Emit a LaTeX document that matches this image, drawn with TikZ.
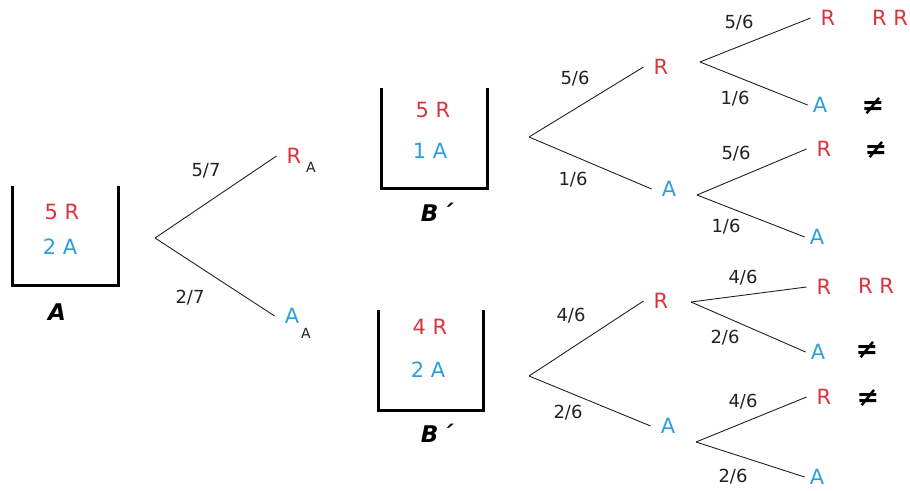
\documentclass[tikz,border=0pt]{standalone}
\usepackage{fontspec}
\setmainfont{DejaVu Sans}
\definecolor{rojo}{HTML}{D9343B}
\definecolor{azul}{HTML}{2B9FD9}
\definecolor{tinta}{HTML}{222222}
\begin{document}
\begin{tikzpicture}[x=1pt,y=-1pt]
  \useasboundingbox (0,0) rectangle (910,490);

  % urnas
  \begin{scope}[line width=3pt]
    \draw (12,186) -- (12,285) -- (118,285) -- (118,186);
    \draw (381,88) -- (381,188) -- (487,188) -- (487,88);
    \draw (378,310) -- (378,410) -- (483,410) -- (483,310);
  \end{scope}

  \begin{scope}[every node/.style={font=\fontsize{21}{22}\selectfont}]
    \node[rojo] (uA1) at (62,212) {5 R};
    \node[azul] (uA2) at (60,247) {2 A};
    \node[rojo] (uB1) at (433,110) {5 R};
    \node[azul] (uB2) at (430,151) {1 A};
    \node[rojo] (uC1) at (430,327) {4 R};
    \node[azul] (uC2) at (428,370) {2 A};
  \end{scope}

  \begin{scope}[every node/.style={font=\fontsize{23}{24}\selectfont\bfseries\itshape}]
    \node (nA) at (57,312) {A};
    \node (nB1) at (437,212) {B\kern3pt´};
    \node (nB2) at (437,433) {B\kern3pt´};
  \end{scope}

  % raices
  \coordinate (0) at (155,238);
  \coordinate (1) at (529,137);
  \coordinate (2) at (529,376);
  \coordinate (3) at (700,62);
  \coordinate (4) at (697,195);
  \coordinate (5) at (691,302);
  \coordinate (6) at (696,442);

  % hojas
  \begin{scope}[every node/.style={inner xsep=10pt,inner ysep=0pt,font=\fontsize{21}{22}\selectfont}]
    \node[rojo] (rA) at (294,156) {R};
    \node[azul] (aA) at (292,316) {A};
    \node[rojo] (r1) at (661,67) {R};
    \node[azul] (a1) at (669,189) {A};
    \node[rojo] (r2) at (661,301) {R};
    \node[azul] (a2) at (668,426) {A};
    \node[rojo] (r3) at (828,18) {R};
    \node[azul,inner xsep=5pt] (a3) at (820,105) {A};
    \node[rojo] (r4) at (824,149) {R};
    \node[azul,inner xsep=5pt] (a4) at (817,237) {A};
    \node[rojo] (r5) at (824,287) {R};
    \node[azul,inner xsep=5pt] (a5) at (818,352) {A};
    \node[rojo] (r6) at (824,397) {R};
    \node[azul,inner xsep=5pt] (a6) at (817,477) {A};
    \node[rojo] (rr3) at (890,18) {R R};
    \node[rojo] (rr5) at (876,286) {R R};
  \end{scope}

  \begin{scope}[every node/.style={tinta,font=\fontsize{14}{15}\selectfont}]
    \node (sA) at (311,167) {A};
    \node (sB) at (306,333) {A};
  \end{scope}

  \begin{scope}[every node/.style={font=\fontsize{27}{27}\selectfont\bfseries\itshape}]
    \node (ne3) at (873,106) {≠};
    \node (ne4) at (876,150) {≠};
    \node (ne5) at (867,350) {≠};
    \node (ne6) at (868,398) {≠};
  \end{scope}

  \begin{scope}[every node/.style={tinta,font=\fontsize{18}{19}\selectfont}]
    \node (p0a) at (206,171) {5/7};
    \node (p0b) at (190,298) {2/7};
    \node (p1a) at (575,79) {5/6};
    \node (p1b) at (573,180) {1/6};
    \node (p2a) at (571,316) {4/6};
    \node (p2b) at (568,413) {2/6};
    \node (p3a) at (739,23) {5/6};
    \node (p3b) at (735,99) {1/6};
    \node (p4a) at (736,154) {5/6};
    \node (p4b) at (726,227) {1/6};
    \node (p5a) at (743,278) {4/6};
    \node (p5b) at (725,338) {2/6};
    \node (p6a) at (743,402) {4/6};
    \node (p6b) at (733,477) {2/6};
  \end{scope}

  \begin{scope}[every edge/.style={draw,tinta,line width=0.9pt}]
    \path (0) edge (rA.west);
    \path (0) edge (aA.west);
    \path (1) edge (r1.west);
    \path (1) edge (a1.west);
    \path (2) edge (r2.west);
    \path (2) edge (a2.west);
    \path (3) edge (r3.west);
    \path (3) edge (a3.west);
    \path (4) edge (r4.west);
    \path (4) edge (a4.west);
    \path (5) edge (r5.west);
    \path (5) edge (a5.west);
    \path (6) edge (r6.west);
    \path (6) edge (a6.west);
  \end{scope}

\end{tikzpicture}
\end{document}
